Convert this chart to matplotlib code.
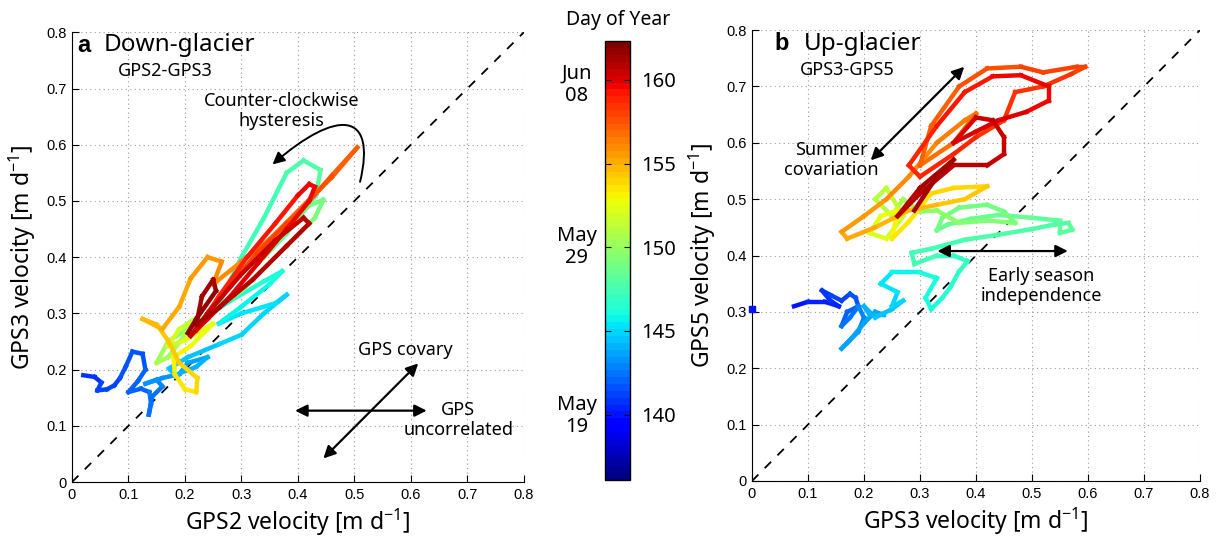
import matplotlib
matplotlib.use('Agg')
import matplotlib.pyplot as plt
import matplotlib.transforms as mtransforms
from matplotlib.collections import LineCollection
from matplotlib.patches import FancyArrowPatch
from matplotlib.path import Path
import numpy as np

# panel a: GPS2 (x) vs GPS3 (y), coloured by day of year
a_doy = [140.9, 141.0, 141.1, 141.2, 141.3, 141.4, 141.5, 141.6, 141.7, 141.8,
         141.9, 142.0, 142.1, 142.2, 142.3, 142.4, 142.5, 142.6, 142.8, 143.0,
         143.2, 143.4, 143.6, 143.8, 144.0, 144.2, 144.4, 144.5, 144.6, 144.7,
         144.8, 144.9, 145.0, 145.3, 145.5, 145.7, 145.9, 146.1, 146.3, 146.5,
         146.7, 146.9, 147.2, 147.4, 147.6, 147.8, 148.0, 148.2, 148.4, 148.6,
         148.8, 149.0, 149.2, 149.4, 149.6, 149.8, 150.0, 150.2, 150.5, 150.8,
         151.1, 151.4, 151.7, 152.0, 152.3, 152.6, 152.9, 153.0, 153.3, 153.6,
         153.9, 154.1, 154.3, 154.5, 154.7, 154.9, 155.1, 155.3, 155.5, 155.7,
         155.9, 156.1, 156.3, 156.5, 156.7, 156.9, 157.1, 157.3, 157.5, 157.7,
         157.9, 158.1, 158.3, 158.5, 158.7, 158.9, 159.1, 159.3, 159.5, 159.6,
         159.7, 159.8, 159.9, 160.0, 160.1, 160.2, 160.3, 160.4, 160.5, 160.6,
         160.7, 160.8, 160.9, 161.0, 161.1, 161.2, 161.3, 161.4, 161.5, 161.6,
         161.7]
a_x = [0.020, 0.040, 0.052, 0.045, 0.062, 0.075, 0.085, 0.095, 0.107, 0.125,
       0.130, 0.117, 0.100, 0.122, 0.137, 0.140, 0.136, 0.142, 0.160, 0.150,
       0.130, 0.160, 0.190, 0.205, 0.240, 0.220, 0.182, 0.172, 0.205, 0.260,
       0.300, 0.340, 0.380, 0.360, 0.300, 0.260, 0.300, 0.350, 0.372, 0.340,
       0.280, 0.255, 0.300, 0.340, 0.380, 0.410, 0.440, 0.432, 0.380, 0.340,
       0.380, 0.420, 0.445, 0.430, 0.380, 0.300, 0.220, 0.170, 0.150, 0.170,
       0.200, 0.220, 0.190, 0.170, 0.200, 0.250, 0.210, 0.180, 0.182, 0.200,
       0.220, 0.222, 0.190, 0.170, 0.150, 0.125, 0.160, 0.190, 0.210, 0.240,
       0.265, 0.250, 0.300, 0.350, 0.380, 0.420, 0.460, 0.505, 0.460, 0.420,
       0.380, 0.330, 0.280, 0.240, 0.220, 0.260, 0.310, 0.360, 0.400, 0.420,
       0.430, 0.420, 0.380, 0.330, 0.280, 0.240, 0.210, 0.240, 0.300, 0.360,
       0.410, 0.420, 0.380, 0.320, 0.260, 0.220, 0.230, 0.250, 0.255, 0.220,
       0.205]
a_y = [0.190, 0.187, 0.177, 0.163, 0.165, 0.172, 0.185, 0.205, 0.232, 0.228,
       0.200, 0.180, 0.160, 0.166, 0.160, 0.140, 0.120, 0.152, 0.170, 0.182,
       0.175, 0.185, 0.192, 0.212, 0.222, 0.205, 0.190, 0.202, 0.222, 0.245,
       0.262, 0.300, 0.333, 0.318, 0.300, 0.282, 0.312, 0.352, 0.375, 0.357,
       0.322, 0.305, 0.400, 0.470, 0.550, 0.572, 0.555, 0.510, 0.442, 0.400,
       0.452, 0.492, 0.502, 0.470, 0.420, 0.340, 0.282, 0.250, 0.212, 0.222,
       0.262, 0.292, 0.272, 0.242, 0.252, 0.282, 0.242, 0.222, 0.192, 0.165,
       0.160, 0.185, 0.212, 0.252, 0.280, 0.290, 0.272, 0.312, 0.362, 0.400,
       0.392, 0.352, 0.392, 0.432, 0.462, 0.502, 0.542, 0.595, 0.545, 0.500,
       0.460, 0.410, 0.350, 0.300, 0.270, 0.330, 0.400, 0.460, 0.510, 0.530,
       0.525, 0.500, 0.450, 0.390, 0.330, 0.290, 0.260, 0.300, 0.370, 0.430,
       0.470, 0.460, 0.420, 0.360, 0.310, 0.280, 0.330, 0.360, 0.340, 0.290,
       0.265]

# panel b: GPS3 (x) vs GPS5 (y)
b_first_x = [0.0]
b_first_y = [0.305]
b_first_doy = [139.8]
b_doy = [140.0, 140.2, 140.4, 140.6, 140.8, 141.0, 141.2, 141.4, 141.6, 141.8,
         142.0, 142.2, 142.4, 142.6, 142.8, 143.0, 143.2, 143.4, 143.5, 143.6,
         143.7, 143.8, 143.9, 144.0, 144.2, 144.4, 144.6, 144.8, 145.0, 145.2,
         145.4, 145.7, 146.0, 146.1, 146.2, 146.3, 146.4, 146.6, 146.8, 147.0,
         147.1, 147.2, 147.3, 147.4, 147.5, 147.6, 147.7, 147.8, 147.9, 148.0,
         148.1, 148.2, 148.3, 148.4, 148.5, 148.6, 148.7, 148.8, 148.9, 149.0,
         149.1, 149.2, 149.4, 149.6, 149.8, 150.0, 150.3, 150.6, 150.9, 151.2,
         151.5, 151.8, 152.1, 152.4, 152.7, 153.0, 153.3, 153.6, 153.9, 154.1,
         154.3, 154.5, 154.7, 154.9, 155.1, 155.3, 155.5, 155.7, 155.9, 156.1,
         156.3, 156.5, 156.7, 156.9, 157.1, 157.3, 157.5, 157.7, 157.9, 158.0,
         158.1, 158.2, 158.3, 158.4, 158.5, 158.6, 158.7, 158.8, 158.9, 159.0,
         159.2, 159.4, 159.5, 159.6, 159.7, 159.8, 159.9, 160.0, 160.1, 160.2,
         160.3, 160.4, 160.5, 160.6, 160.7, 160.8, 160.9, 161.0, 161.1, 161.2,
         161.3, 161.4]
b_x = [0.075, 0.100, 0.130, 0.155, 0.140, 0.125, 0.140, 0.160, 0.175, 0.185,
       0.190, 0.170, 0.160, 0.175, 0.190, 0.200, 0.190, 0.170, 0.160, 0.175,
       0.200, 0.220, 0.235, 0.210, 0.200, 0.220, 0.250, 0.270, 0.250, 0.260,
       0.230, 0.250, 0.300, 0.330, 0.310, 0.320, 0.340, 0.355, 0.370, 0.385,
       0.360, 0.330, 0.290, 0.285, 0.320, 0.380, 0.440, 0.500, 0.540, 0.565,
       0.572, 0.550, 0.550, 0.500, 0.440, 0.390, 0.350, 0.330, 0.340, 0.370,
       0.420, 0.450, 0.470, 0.420, 0.370, 0.330, 0.300, 0.270, 0.250, 0.220,
       0.240, 0.270, 0.240, 0.210, 0.230, 0.260, 0.250, 0.280, 0.320, 0.360,
       0.420, 0.380, 0.330, 0.280, 0.220, 0.170, 0.160, 0.200, 0.240, 0.280,
       0.330, 0.380, 0.400, 0.360, 0.300, 0.320, 0.370, 0.420, 0.480, 0.520,
       0.580, 0.595, 0.570, 0.520, 0.470, 0.450, 0.400, 0.360, 0.300, 0.280,
       0.330, 0.380, 0.430, 0.480, 0.530, 0.530, 0.490, 0.440, 0.400, 0.360,
       0.400, 0.430, 0.450, 0.450, 0.420, 0.360, 0.300, 0.260, 0.300, 0.360,
       0.330, 0.290]
b_y = [0.310, 0.318, 0.318, 0.310, 0.320, 0.338, 0.330, 0.320, 0.332, 0.325,
       0.310, 0.300, 0.275, 0.290, 0.310, 0.290, 0.265, 0.245, 0.235, 0.250,
       0.280, 0.300, 0.295, 0.295, 0.310, 0.290, 0.305, 0.320, 0.310, 0.335,
       0.350, 0.370, 0.370, 0.360, 0.325, 0.305, 0.325, 0.345, 0.372, 0.390,
       0.400, 0.400, 0.385, 0.405, 0.412, 0.428, 0.437, 0.447, 0.455, 0.458,
       0.446, 0.440, 0.462, 0.467, 0.472, 0.465, 0.455, 0.445, 0.467, 0.485,
       0.490, 0.478, 0.458, 0.462, 0.458, 0.480, 0.478, 0.500, 0.470, 0.500,
       0.520, 0.470, 0.430, 0.440, 0.470, 0.480, 0.430, 0.460, 0.510, 0.520,
       0.523, 0.500, 0.490, 0.480, 0.450, 0.430, 0.442, 0.470, 0.500, 0.540,
       0.600, 0.640, 0.652, 0.600, 0.560, 0.630, 0.700, 0.732, 0.735, 0.725,
       0.735, 0.735, 0.722, 0.700, 0.690, 0.640, 0.610, 0.580, 0.540, 0.560,
       0.630, 0.690, 0.718, 0.720, 0.700, 0.675, 0.655, 0.640, 0.620, 0.600,
       0.645, 0.640, 0.610, 0.580, 0.560, 0.560, 0.510, 0.470, 0.520, 0.570,
       0.540, 0.480]

cbar_ticks = [140, 145, 150, 155, 160]
date_labels = ['May\n19', 'May\n29', 'Jun\n08']
date_doy = [139.9, 150.0, 159.7]

DOY_MIN, DOY_MAX = 136.1, 162.3
cmap = plt.get_cmap('jet', 64)
norm = plt.Normalize(DOY_MIN, DOY_MAX)

LAB = 'Noto Sans'
TCK = 'Liberation Sans'
plt.rcParams['mathtext.fontset'] = 'custom'
plt.rcParams['mathtext.rm'] = LAB
plt.rcParams['mathtext.it'] = LAB

fig = plt.figure(figsize=(12.18, 5.38), dpi=100)
ax_a = fig.add_axes([0.0591, 0.104, 0.371, 0.836])
ax_b = fig.add_axes([0.6174, 0.106, 0.3678, 0.838])
cax = fig.add_axes([0.497, 0.108, 0.0203, 0.815])


def track(ax, xs, ys, days):
    pts = np.column_stack([xs, ys])
    segs = np.stack([pts[:-1], pts[1:]], axis=1)
    lc = LineCollection(segs, cmap=cmap, norm=norm, linewidths=3.2,
                        capstyle='projecting', joinstyle='miter', zorder=3)
    lc.set_array(np.asarray(days[:-1]))
    ax.add_collection(lc)


def style(ax, xlabel, ylabel):
    ax.set_xlim(0, 0.8)
    ax.set_ylim(0, 0.8)
    ticks = np.round(np.arange(0, 0.81, 0.1), 1)
    ax.set_xticks(ticks)
    ax.set_yticks(ticks)
    ax.set_xticklabels(['0' if t == 0 else '%.1f' % t for t in ticks])
    ax.set_yticklabels(['0' if t == 0 else '%.1f' % t for t in ticks])
    for lab in ax.get_xticklabels() + ax.get_yticklabels():
        lab.set_fontfamily(TCK)
        lab.set_fontsize(10.5)
    ax.tick_params(direction='in', length=5, width=0.8, pad=4)
    ax.grid(True, linestyle=(0, (1, 3)), color='#999999', linewidth=0.8)
    ax.spines['top'].set_visible(False)
    ax.spines['right'].set_visible(False)
    ax.plot([0, 0.8], [0, 0.8], '--', color='black', lw=1.3, dashes=(5, 5), zorder=2)
    ax.set_xlabel(xlabel, family=LAB, fontsize=16.5, labelpad=4)
    ax.set_ylabel(ylabel, family=LAB, fontsize=16.5, labelpad=6)


def arrow2(ax, p0, p1):
    ax.annotate('', xy=p1, xytext=p0,
                arrowprops=dict(arrowstyle='<|-|>', color='black', lw=1.6,
                                mutation_scale=18, shrinkA=0, shrinkB=0), zorder=5)


# panel a
style(ax_a, 'GPS2 velocity [m d$^{-1}$]', 'GPS3 velocity [m d$^{-1}$]')
track(ax_a, a_x, a_y, a_doy)
ax_a.text(0.009, 0.777, 'a', fontsize=17, fontweight='bold', family=TCK, va='center')
ax_a.text(0.056, 0.777, 'Down-glacier', fontsize=17.5, family=LAB, va='center')
ax_a.text(0.082, 0.731, 'GPS2-GPS3', fontsize=13, family=LAB, va='center')
ax_a.text(0.371, 0.66, 'Counter-clockwise\nhysteresis', fontsize=13, family=LAB,
          ha='center', va='center', linespacing=1.15)
hook = Path([(0.51, 0.534), (0.54, 0.66), (0.47, 0.665), (0.355, 0.565)],
            [Path.MOVETO, Path.CURVE4, Path.CURVE4, Path.CURVE4])
ax_a.add_patch(FancyArrowPatch(path=hook, arrowstyle='-|>', mutation_scale=18,
                               color='black', lw=1.4, zorder=5,
                               transform=ax_a.transData))
arrow2(ax_a, (0.395, 0.127), (0.628, 0.127))
arrow2(ax_a, (0.445, 0.042), (0.613, 0.211))
ax_a.text(0.59, 0.234, 'GPS covary', fontsize=13, family=LAB, ha='center', va='center')
ax_a.text(0.684, 0.11, 'GPS\nuncorrelated', fontsize=13, family=LAB, ha='center',
          va='center', linespacing=1.15)

# panel b
style(ax_b, 'GPS3 velocity [m d$^{-1}$]', 'GPS5 velocity [m d$^{-1}$]')
track(ax_b, b_x, b_y, b_doy)
ax_b.scatter(b_first_x, b_first_y, c=b_first_doy, cmap=cmap, norm=norm,
             marker='s', s=14, zorder=3, clip_on=False)
ax_b.text(0.041, 0.776, 'b', fontsize=17, fontweight='bold', family=TCK, va='center')
ax_b.text(0.092, 0.776, 'Up-glacier', fontsize=17.5, family=LAB, va='center')
ax_b.text(0.085, 0.73, 'GPS3-GPS5', fontsize=13, family=LAB, va='center')
arrow2(ax_b, (0.212, 0.569), (0.379, 0.735))
ax_b.text(0.141, 0.569, 'Summer\ncovariation', fontsize=13, family=LAB, ha='center',
          va='center', linespacing=1.15)
arrow2(ax_b, (0.331, 0.408), (0.564, 0.408))
ax_b.text(0.517, 0.346, 'Early season\nindependence', fontsize=13, family=LAB,
          ha='center', va='center', linespacing=1.15)

# colour bar
sm = plt.cm.ScalarMappable(cmap=cmap, norm=norm)
cb = fig.colorbar(sm, cax=cax, ticks=cbar_ticks)
cb.outline.set_linewidth(1.0)
cax.tick_params(direction='in', length=4, width=0.8, labelsize=14.5, pad=8,
                left=True, right=True)
for lab in cax.get_yticklabels():
    lab.set_fontfamily(LAB)
cax.set_title('Day of Year', family=LAB, fontsize=14, pad=12)
trans = mtransforms.blended_transform_factory(cax.transAxes, cax.transData)
for d, lab in zip(date_doy, date_labels):
    cax.text(-1.16, d, lab, transform=trans, ha='center', va='center',
             family=LAB, fontsize=14.5, linespacing=1.15)

fig.savefig('out.png', dpi=100)
